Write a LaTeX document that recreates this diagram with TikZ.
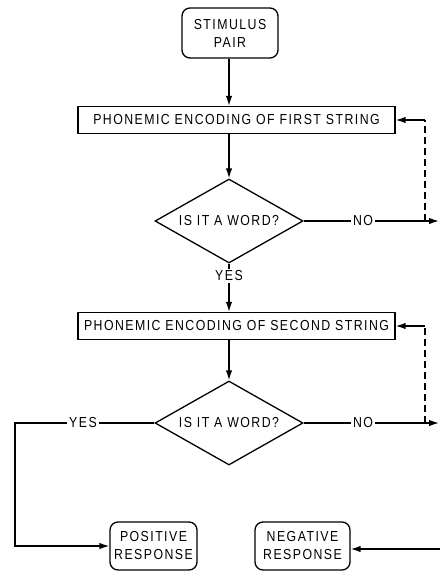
\documentclass[tikz,border=0pt]{standalone}
\usepackage{fontspec}
\setmainfont{Liberation Sans}[FakeStretch=0.85,LetterSpace=10]
\usetikzlibrary{shapes.geometric,arrows.meta}

\begin{document}
\begin{tikzpicture}[x=1pt,y=-1pt,
  flow/.style={line width=1.4pt},
  arr/.style={flow,-{Latex[length=10pt,width=6.5pt]}},
  retline/.style={line width=1.4pt,dash pattern=on 7pt off 4pt},
  lbl/.style={font=\fontsize{14.5}{17}\selectfont,inner sep=2pt},
  term/.style={draw,line width=1.3pt,rounded corners=8pt,align=center,
    font=\fontsize{14.5}{18}\selectfont,inner sep=0pt},
  proc/.style={draw,line width=1.3pt,minimum width=317pt,minimum height=27pt,
    font=\fontsize{14.5}{17}\selectfont,inner sep=0pt},
  decision/.style={diamond,aspect=1.76,draw,line width=1.3pt,minimum width=148pt,
    minimum height=84pt,inner sep=0pt,font=\fontsize{14.5}{17}\selectfont}
]
\useasboundingbox (0,0) rectangle (440,573);

% terminal and process boxes
\node[term,minimum width=96pt,minimum height=50pt] (start) at (230,33) {STIMULUS\\PAIR};
\node[proc] (enc1) at (236.5,120) {PHONEMIC ENCODING OF FIRST STRING};
\node[decision] (word1) at (229,221) {IS IT A WORD?};
\node[proc] (enc2) at (236.5,326) {PHONEMIC ENCODING OF SECOND STRING};
\node[decision] (word2) at (229,423) {IS IT A WORD?};
\node[term,minimum width=87pt,minimum height=48pt] (pos) at (153.5,546) {POSITIVE\\RESPONSE};
\node[term,minimum width=95pt,minimum height=48pt] (neg) at (302.5,546) {NEGATIVE\\RESPONSE};

% branch labels
\node[lbl] (no1) at (363,221) {NO};
\node[lbl] (yes1) at (229,276) {YES};
\node[lbl] (no2) at (363,423) {NO};
\node[lbl] (yes2) at (83,423) {YES};

% free ends of the loop-back lines
\coordinate (r1) at (425,221);
\coordinate (e1) at (439,221);
\coordinate (r2) at (425,423);
\coordinate (e2) at (439,423);
\coordinate (lc) at (15,423);
\coordinate (edge) at (440,549);

% main line
\draw[arr] (start.south -| word1.north) -- (word1.north |- enc1.north);
\draw[arr] (word1.north |- enc1.south) -- (word1.north);
\draw[flow] (word1.south) -- (yes1.north);
\draw[arr] (yes1.south) -- (word1.north |- enc2.north);
\draw[arr] (word1.north |- enc2.south) -- (word2.north);

% NO branches and dashed returns
\draw[flow] (word1.east) -- (no1.west);
\draw[arr] (no1.east) -- (e1);
\draw[retline] (r1) -- (r1 |- enc1.east);
\draw[arr] (r1 |- enc1.east) -- (enc1.east);

\draw[flow] (word2.east) -- (no2.west);
\draw[arr] (no2.east) -- (e2);
\draw[retline] (r2) -- (r2 |- enc2.east);
\draw[arr] (r2 |- enc2.east) -- (enc2.east);

% YES branch to positive response
\draw[flow] (word2.west) -- (yes2.east);
\draw[arr] (yes2.west) -- (lc) -- (lc |- pos.west) -- (pos.west);

% line into negative response
\draw[arr] (edge) -- (neg.east |- edge);
\end{tikzpicture}
\end{document}
